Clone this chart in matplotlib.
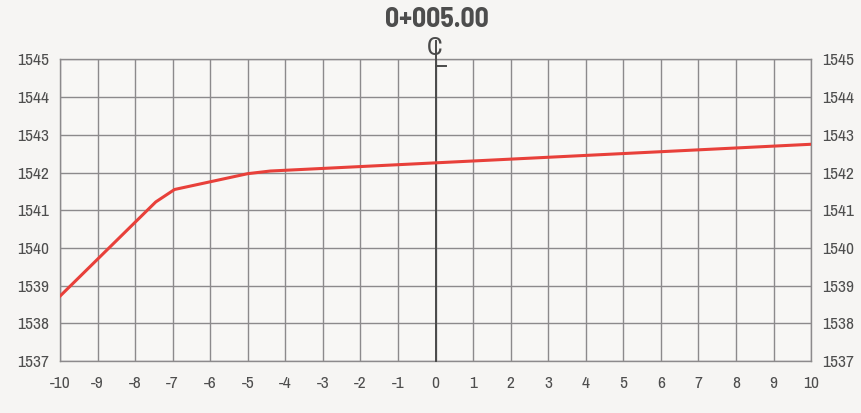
import matplotlib
matplotlib.use("Agg")
import matplotlib.pyplot as plt
from matplotlib import font_manager

offsets = [-10.0, -7.45, -6.95, -5.0, -4.4, 10.0]
elevations = [1538.72, 1541.22, 1541.55, 1541.97, 1542.04, 1542.75]
x_ticks = list(range(-10, 11))
y_ticks = list(range(1537, 1546))
title = "0+005.00"

plt.rcParams["axes.unicode_minus"] = False
names = {f.name for f in font_manager.fontManager.ttflist}
fam = "Liberation Sans"
for cand in ["Archivo Narrow", "Roboto Condensed", "PT Sans Narrow", "Fira Sans Condensed",
             "Barlow Condensed", "Barlow Semi Condensed", "Liberation Sans Narrow"]:
    if cand in names:
        fam = cand
        break
title_fam = "Barlow Semi Condensed" if "Barlow Semi Condensed" in names else fam

fig = plt.figure(figsize=(8.61, 4.13), dpi=100, facecolor="#f6f5f3")
ax = fig.add_axes([0.0697, 0.126, 0.8723, 0.730])
ax.set_facecolor("#f8f7f5")
ax.set_xlim(-10, 10)
ax.set_ylim(1537, 1545)
ax.set_xticks(x_ticks)
ax.set_yticks(y_ticks)
ax.grid(True, color="#8c8a8c", linewidth=1.0)
for s in ax.spines.values():
    s.set_color("#8c8a8c")
    s.set_linewidth(1.0)
ax.tick_params(length=0, labelsize=12.5, labelcolor="#4e4e4e")
ax.tick_params(axis="x", pad=11)
ax.tick_params(axis="y", pad=8, labelright=True)
for t in ax.xaxis.get_major_ticks():
    t.label1.set_fontfamily(fam)
for t in ax.yaxis.get_major_ticks():
    t.label1.set_fontfamily(fam)
    t.label2.set_fontfamily(fam)

# centre line with centreline symbol
ax.plot([0, 0], [1537, 1545.5], color="#4a4a4a", linewidth=1.4, clip_on=False, zorder=3)
ax.plot([0, 0.28], [1544.84, 1544.84], color="#4a4a4a", linewidth=1.4, clip_on=False, zorder=3)
ax.text(-0.03, 1545.33, "C", ha="center", va="center", fontsize=19, color="#4a4a4a",
        fontfamily=fam, clip_on=False)

ax.plot(offsets, elevations, color="#e8403a", linewidth=2.2, zorder=4)

fig.text(0.507, 0.953, title, ha="center", va="center", fontsize=20, fontweight="bold",
         color="#4d4d4d", fontfamily=title_fam)

fig.savefig("out.png", dpi=100, facecolor=fig.get_facecolor())
